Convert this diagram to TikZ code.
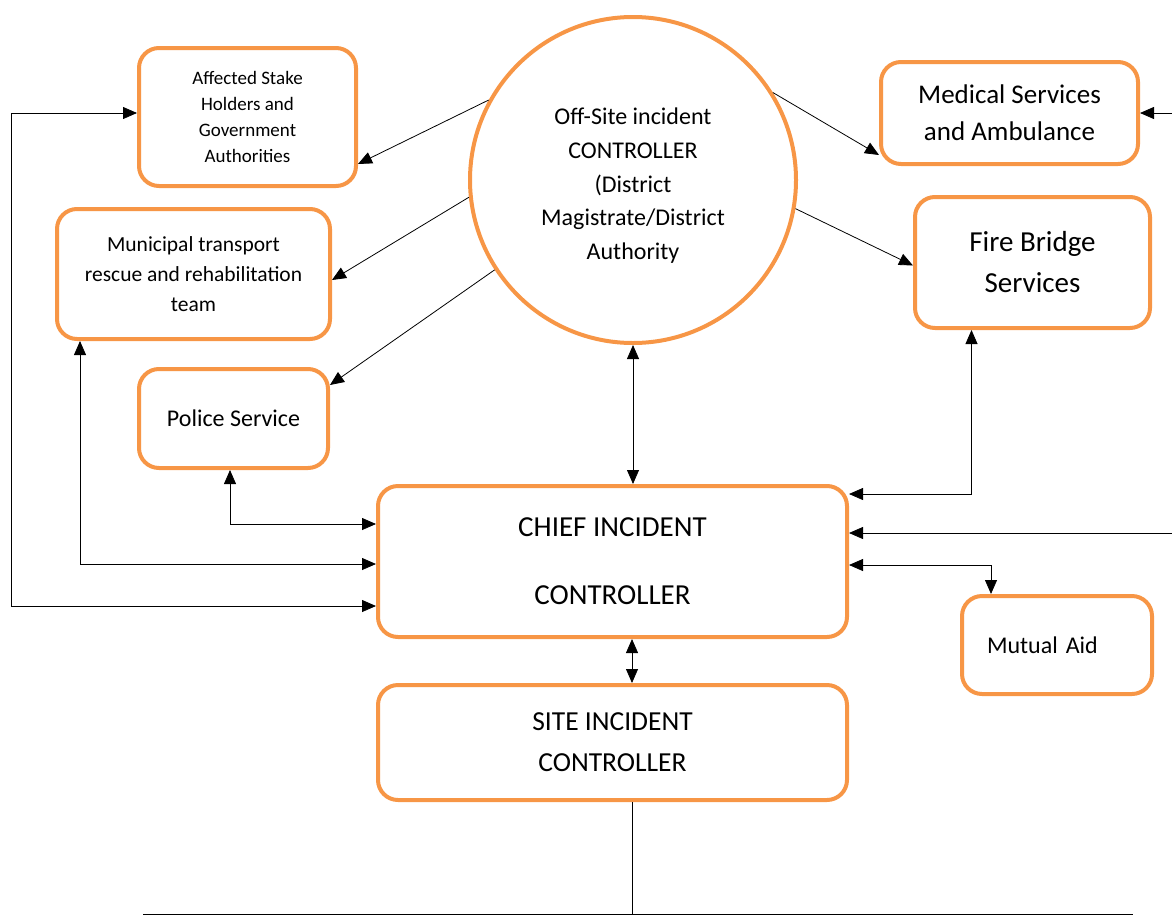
\documentclass[tikz,border=0pt]{standalone}
\usepackage{fontspec}
\setmainfont{Carlito}
\usetikzlibrary{arrows.meta}
\definecolor{boxorange}{HTML}{F79646}
\tikzset{
  box/.style={draw=boxorange, line width=4pt, rounded corners=20pt, inner sep=0pt, align=center, fill=white},
  conn/.style={draw=black, line width=0.8pt, -{Triangle[length=14pt,width=12pt]}},
  dconn/.style={draw=black, line width=0.8pt, {Triangle[length=14pt,width=12pt]}-{Triangle[length=14pt,width=12pt]}},
  plain/.style={draw=black, line width=0.8pt},
}
\begin{document}
\begin{tikzpicture}[x=1pt,y=-1pt]
\useasboundingbox (0,0) rectangle (1172,916);
% nodes
\node[box, minimum width=217pt, minimum height=138pt, font=\fontsize{19}{26}\selectfont] (aff) at (247.5,117) {Affected Stake\\Holders and\\Government\\Authorities};
\node[box, minimum width=273pt, minimum height=130pt, font=\fontsize{21.5}{30}\selectfont] (mun) at (193.5,274) {Municipal transport\\rescue and rehabilitation\\team};
\node[box, minimum width=189pt, minimum height=99pt, font=\fontsize{24}{28}\selectfont] (pol) at (233.5,418.5) {Police Service};
\node[draw=boxorange, line width=4pt, circle, minimum size=326pt, inner sep=0pt, align=center, font=\fontsize{24}{33.7}\selectfont] (circ) at (633,180) {\rule{0pt}{28pt}Off-Site incident\\CONTROLLER\\(District\\Magistrate/District\\Authority};
\node[box, minimum width=257pt, minimum height=102pt, font=\fontsize{27}{37}\selectfont] (med) at (1009.5,113) {Medical Services\\and Ambulance};
\node[box, minimum width=235pt, minimum height=131pt, font=\fontsize{29}{41}\selectfont] (fire) at (1032.5,262.5) {Fire Bridge\\Services};
\node[box, minimum width=469pt, minimum height=151pt, font=\fontsize{29}{68}\selectfont] (chief) at (612.5,561.5) {CHIEF INCIDENT\\CONTROLLER};
\node[box, minimum width=190pt, minimum height=98pt, text width=140pt, inner xsep=25pt, align=left, font=\fontsize{24}{28}\selectfont] (mut) at (1057,645) {Mutual Aid};
\node[box, minimum width=469pt, minimum height=115pt, font=\fontsize{27.5}{41}\selectfont] (site) at (612.5,742.5) {SITE INCIDENT\\CONTROLLER};
% free-end coordinates
\coordinate (lc) at (11,606);
\coordinate (rin) at (1172,533);
\coordinate (min) at (1172,113);
\coordinate (bl) at (143,914);
\coordinate (br) at (1133,914);
% connectors from circle
\draw[conn] (circ.151.5) -- ([yshift=24]aff.south east);
\draw[conn] (circ.186) -- ([yshift=-6]mun.east);
\draw[conn] (circ.213) -- ([yshift=-18]pol.north east);
\draw[conn] (circ.32) -- ([yshift=11]med.south west);
\draw[conn] (circ.-10.5) -- ([yshift=-3]fire.west);
\draw[dconn] (circ.south) -- (circ.south |- chief.north);
% right side
\draw[dconn] ([xshift=-61]fire.south) |- ([yshift=-10]chief.north east);
\draw[conn] (rin) -- (rin -| chief.east);
\draw[conn] (min) -- (med.east);
\draw[dconn] ([yshift=-3.5]chief.east) -| ([xshift=-66]mut.north);
% left side
\draw[dconn] ([xshift=-3.5]pol.south) |- ([yshift=37.5]chief.west);
\draw[dconn] ([xshift=-113.5]mun.south) |- ([yshift=-2.5]chief.west);
\draw[dconn] ([yshift=4]aff.west) -| (lc) -- ([yshift=-44.5]chief.west);
% bottom
\draw[dconn] ([xshift=19.5]chief.south) -- ([xshift=19.5]site.north);
\draw[plain] ([xshift=19.5]site.south) -- ([xshift=19.5]site.south |- bl);
\draw[plain] (bl) -- (br);
\end{tikzpicture}
\end{document}
